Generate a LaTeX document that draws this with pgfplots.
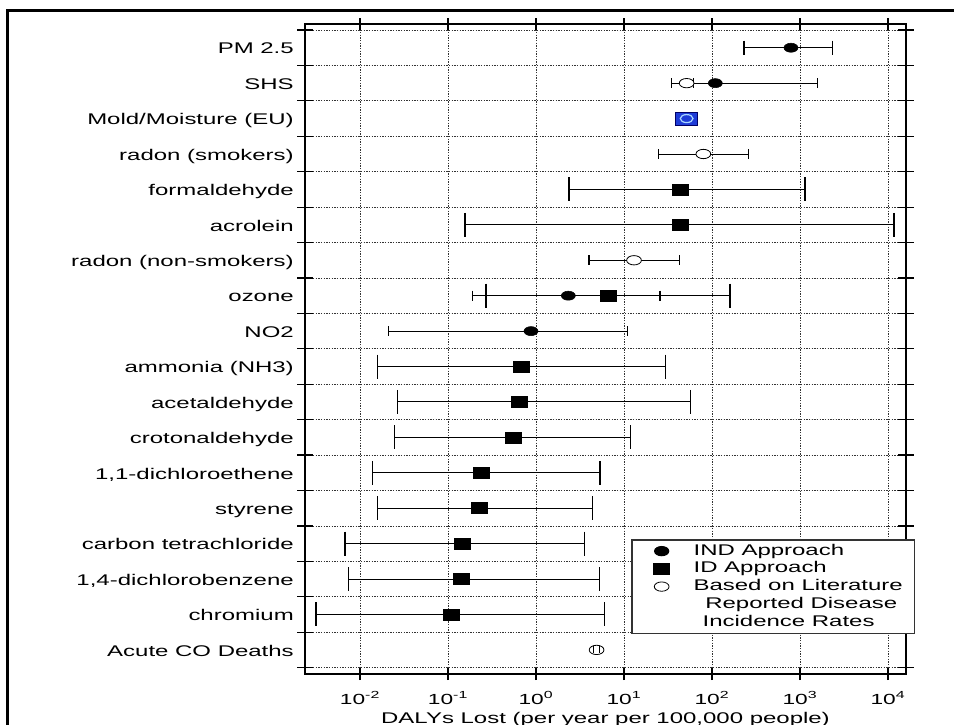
\documentclass[border=0pt]{standalone}
\usepackage{pgfplots}
\pgfplotsset{compat=1.18}
\usepackage{fontspec}
\setmainfont{Liberation Sans}[FakeStretch=1.55]
\definecolor{moldblue}{RGB}{30,60,215}
\definecolor{moldring}{RGB}{170,215,255}
\pgfplotsset{
  lgimg/.style={legend image code/.code={\path (0pt,0pt) (35.5pt,0pt); \draw[##1] plot coordinates {(13pt,0pt)};}},
}
\newcommand{\lblfont}{\fontsize{11.6}{13}\selectfont}
\newcommand{\tickfont}{\fontsize{11}{13}\selectfont}
\begin{document}
\begin{tikzpicture}
\path[use as bounding box] (0,0) rectangle (715.5pt,543.75pt);
\draw[line width=2.25pt, line join=miter] (5.6pt,-5pt) -- (5.6pt,535.9pt) -- (720pt,535.9pt);
\begin{axis}[
  at={(228.75pt,38.25pt)}, anchor=south west,
  scale only axis, width=450.75pt, height=487.5pt,
  xmode=log, xmin=0.002371, xmax=16017,
  ymin=-0.67, ymax=17.68, y dir=reverse,
  xtick={0.01,0.1,1,10,100,1000,10000},
  xticklabels={10\textsuperscript{-2},10\textsuperscript{-1},10\textsuperscript{0},10\textsuperscript{1},10\textsuperscript{2},10\textsuperscript{3},10\textsuperscript{4}},
  xminorticks=false,
  ytick={0,...,17},
  yticklabels={PM 2.5,SHS,Mold/Moisture (EU),radon (smokers),formaldehyde,acrolein,radon (non-smokers),ozone,NO2,ammonia (NH3),acetaldehyde,crotonaldehyde,{1,1-dichloroethene},styrene,carbon tetrachloride,{1,4-dichlorobenzene},chromium,Acute CO Deaths},
  minor ytick={-0.5,0.5,...,17.5},
  xmajorgrids, yminorgrids, ymajorgrids=false,
  grid style={black!80, line width=0.6pt, dash pattern=on 0.9pt off 1.1pt},
  minor grid style={black!80, line width=0.6pt, dash pattern=on 0.9pt off 1.1pt},
  tick align=center,
  major tick length=9pt, minor tick length=12pt,
  tick style={black, line width=0.9pt},
  major y tick style={draw=none},
  axis line style={line width=0.9pt},
  xticklabel style={font=\tickfont, anchor=base, yshift=-18pt},
  yticklabel style={font=\lblfont, anchor=base east, inner sep=0pt, yshift=-4.65pt, xshift=-3.75pt},
  xlabel={DALYs Lost (per year per 100,000 people)},
  xlabel style={at={(axis description cs:0.5,-0.0769)}, anchor=base, font=\lblfont, inner sep=0pt},
  unbounded coords=jump,
  legend style={at={(axis description cs:0.5431,0.2072)}, anchor=north west,
    draw=black!80, line width=0.9pt, fill=white, font=\lblfont,
    inner xsep=8.8pt, inner ysep=2.9pt, row sep=2.3pt, column sep=1pt,
    nodes={inner sep=0pt, text height=8.5pt, text depth=2.5pt}},
  legend cell align=left,
]
% error bars, small caps
\addplot[black, line width=0.75pt, mark=|, mark size=3.75pt, mark options={line width=0.9pt, solid}, forget plot] coordinates {
 (35,1) (62,1) (nan,nan)
 (62,1) (1585,1) (nan,nan)
 (24.5,3) (259,3) (nan,nan)
 (4.0,6) (42.5,6) (nan,nan)
 (0.19,7) (25.6,7) (nan,nan)
 (0.021,8) (11.0,8)
};
% PM2.5
\addplot[black, line width=0.75pt, mark=|, mark size=5.25pt, mark options={line width=0.9pt, solid}, forget plot] coordinates {
 (231,0) (2355,0)
};
% CO
\addplot[black, line width=0.75pt, mark=|, mark size=2.6pt, mark options={line width=0.9pt, solid}, forget plot] coordinates {
 (4.48,17) (5.24,17)
};
% tall caps (ID approach)
\addplot[black, line width=0.75pt, mark=|, mark size=9pt, mark options={line width=1.1pt, solid}, forget plot] coordinates {
 (2.37,4) (1140,4) (nan,nan)
 (0.156,5) (11700,5) (nan,nan)
 (0.27,7) (160,7) (nan,nan)
 (0.0159,9) (29.8,9) (nan,nan)
 (0.0268,10) (56.8,10) (nan,nan)
 (0.0245,11) (11.9,11) (nan,nan)
 (0.0139,12) (5.34,12) (nan,nan)
 (0.0159,13) (4.37,13) (nan,nan)
 (0.00676,14) (3.54,14) (nan,nan)
 (0.00738,15) (5.25,15) (nan,nan)
 (0.00316,16) (5.98,16)
};
% IND approach
\addplot[only marks, mark=*, mark size=3.4pt, mark options={xscale=1.55, fill=black, draw=black}, lgimg] coordinates {
 (790,0) (109,1) (2.33,7) (0.877,8)
};
\addlegendentry{IND Approach}
% ID approach
\addplot[only marks, mark=square*, mark size=4.1pt, mark options={xscale=1.45, fill=black, draw=black}, lgimg] coordinates {
 (43.3,4) (43.3,5) (6.64,7) (0.687,9) (0.646,10) (0.552,11) (0.237,12) (0.229,13) (0.146,14) (0.141,15) (0.108,16)
};
\addlegendentry{ID Approach}
% literature
\addplot[only marks, mark=*, mark size=3.5pt, mark options={xscale=1.58, fill=white, draw=black, line width=0.6pt}, lgimg] coordinates {
 (51.5,1) (79.8,3) (13.0,6) (4.88,17)
};
\addlegendentry{Based on Literature}
% Mold/Moisture
\addplot[only marks, mark=square*, mark size=4.9pt, mark options={xscale=1.69, fill=moldblue, draw=black!60!blue, line width=0.6pt}, forget plot] coordinates {(51.5,2)};
\addplot[only marks, mark=o, mark size=3pt, mark options={xscale=1.6, draw=moldring, line width=0.9pt}, forget plot] coordinates {(51.5,2)};
% CO error caps on top of circle
\addplot[only marks, mark=|, mark size=2.6pt, mark options={line width=0.9pt, black}, forget plot] coordinates {(4.48,17) (5.24,17)};
\addlegendimage{empty legend}
\addlegendentry{\hspace*{8.8pt}Reported Disease}
\addlegendimage{empty legend}
\addlegendentry{\hspace*{6.8pt}Incidence Rates}
\end{axis}
\end{tikzpicture}
\end{document}
